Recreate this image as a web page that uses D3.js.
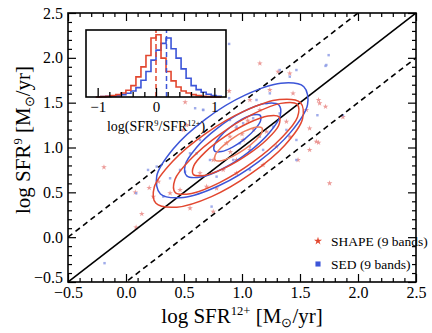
<!DOCTYPE html>
<html><head><meta charset="utf-8">
<script src="https://cdn.jsdelivr.net/npm/d3@7"></script>
<style>body{margin:0;background:#fff} svg{display:block} text{font-family:"Liberation Serif","Times New Roman",serif;fill:#000}</style>
</head><body><svg id="c" width="432" height="333"></svg>
<script>
// ---------- data ----------
const xDomain = [-0.5, 2.5];
const yDomain = [-0.5, 2.5];
const majorTicks = [-0.5, 0, 0.5, 1, 1.5, 2, 2.5];
const tickLabels = ["\u22120.5", "0.0", "0.5", "1.0", "1.5", "2.0", "2.5"];
const dashOffsets = [0.5, -0.5];

const shapePoints = [[1.154,1.939],[1.311,1.846],[1.412,1.827],[1.669,1.493],[1.755,0.601],[1.641,1.066],[1.483,0.861],[1.583,0.973],
[0.236,0.452],[0.552,0.322],[0.752,0.285],[0.494,1.196],[0.523,1.251],[1.154,1.419],[1.211,1.177],[0.953,1.214],[0.896,1.121],
[1.010,1.084],[0.867,1.047],[1.068,0.973],[0.752,0.861],[0.953,0.861],[0.838,0.750],[0.638,0.713],[0.695,0.564],[0.781,0.545],
[0.953,0.713],[1.182,0.805],[1.297,1.010],[1.412,1.121],[1.383,1.289],[0.380,0.490],[0.466,0.527],[1.068,1.530],[1.240,1.642],
[1.440,1.604],[1.555,1.419],[1.583,1.214],[-0.19,0.78],[0.136,0.259],[0.087,0.11],[1.72,1.455],[1.66,1.054],[1.87,1.34],
[1.66,1.53],[0.889,1.63],[0.51,1.505],[0.08,0.50],[0.20,0.55],[0.28,0.62],[1.0,1.15],[1.1,1.2],[0.9,0.95],[1.05,1.3]];
const sedPoints = [[1.727,1.920],[1.469,1.864],[1.412,1.790],[1.325,1.864],[1.240,1.604],[1.125,1.530],[0.666,1.419],[0.638,1.084],
[0.609,0.935],[0.509,0.731],[0.322,0.452],[0.738,0.341],[0.924,0.861],[0.982,1.047],[1.068,1.010],[1.154,1.121],[0.953,1.233],
[0.896,1.307],[1.010,1.270],[1.096,1.326],[1.211,1.493],[1.325,1.381],[1.383,1.196],[1.469,0.861],[1.469,1.084],[0.781,0.675],
[0.724,0.861],[0.552,0.935],[0.466,0.750],[0.380,0.657],[0.265,0.787],[1.182,0.973],[1.268,1.233],[1.068,0.750],[1.747,2.03],
[1.72,1.91],[1.65,1.36],[1.87,1.36],[0.889,2.155],[0.889,1.55],[0.596,1.438],[0.664,1.419],[-0.185,-0.29],[0.088,0.49],[0.19,0.75]];

// contour outlines (data coordinates)
const blueOuter = [[1.533,1.678],[1.335,1.717],[1.026,1.584],[0.686,1.317],[0.408,0.986],[0.265,0.681],[0.297,0.482],[0.495,0.443],[0.804,0.576],[1.144,0.843],[1.422,1.174],[1.565,1.479]];
const blueMiddle = [[1.316,1.476],[1.196,1.490],[1.002,1.394],[0.786,1.214],[0.606,0.998],[0.510,0.804],[0.524,0.684],[0.644,0.670],[0.838,0.766],[1.054,0.946],[1.234,1.162],[1.330,1.356]];
const blueInner = [[1.155,1.361],[1.097,1.365],[1.001,1.315],[0.895,1.223],[0.807,1.115],[0.759,1.017],[0.765,0.959],[0.823,0.955],[0.919,1.005],[1.025,1.097],[1.113,1.205],[1.161,1.303]];
const redOuter = [[1.502,1.503],[1.322,1.535],[1.023,1.408],[0.686,1.155],[0.401,0.844],[0.244,0.559],[0.258,0.377],[0.438,0.335],[0.737,0.452],[1.074,0.705],[1.369,1.026],[1.522,1.321]];
const redSecond = [[1.476,1.481],[1.334,1.492],[1.089,1.369],[0.807,1.144],[0.563,0.877],[0.422,0.642],[0.424,0.499],[0.566,0.488],[0.811,0.611],[1.093,0.836],[1.337,1.103],[1.478,1.338]];
const redThird = [[1.320,1.341],[1.224,1.351],[1.055,1.273],[0.858,1.126],[0.685,0.951],[0.584,0.795],[0.580,0.699],[0.676,0.689],[0.845,0.767],[1.042,0.914],[1.215,1.089],[1.316,1.245]];
const redInner = [[1.171,1.221],[1.117,1.227],[1.024,1.182],[0.916,1.099],[0.822,1.000],[0.769,0.913],[0.769,0.859],[0.823,0.853],[0.916,0.898],[1.024,0.981],[1.118,1.080],[1.171,1.167]];

// inset histogram of log(SFR9/SFR12+)
const histEdges = [-1.032,-0.946,-0.860,-0.774,-0.688,-0.602,-0.516,-0.430,-0.344,-0.258,-0.172,-0.086,0,0.086,0.172,0.258,0.344,0.430,0.516,0.602,0.688,0.774,0.860,0.946,1.032,1.118];
const histShape = [0,0.005,0.01,0.02,0.035,0.06,0.10,0.17,0.30,0.45,0.62,0.88,0.93,0.58,0.38,0.24,0.15,0.09,0.06,0.035,0.02,0.01,0.005,0,0];
const histSed = [0,0.005,0.01,0.015,0.02,0.035,0.055,0.09,0.14,0.25,0.38,0.55,0.70,0.80,0.88,0.72,0.58,0.42,0.28,0.17,0.11,0.07,0.04,0.02,0.01];
const medianShape = 0.0, medianSed = 0.18;
const insetTicks = [-1, 0, 1];
const insetTickLabels = ["\u22121", "0", "1"];

// ---------- drawing ----------
const RED = "#e2472f", BLUE = "#3c55d8", REDL = "#ee7c5e";
const svg = d3.select("#c");
const L = 68, R = 416, T = 13, B = 282;
const x = d3.scaleLinear(xDomain, [L, R]);
const y = d3.scaleLinear(yDomain, [B, T]);

svg.append("clipPath").attr("id","clip").append("rect").attr("x",L).attr("y",T).attr("width",R-L).attr("height",B-T);
const plot = svg.append("g").attr("clip-path","url(#clip)");

// scatter
plot.append("g").selectAll("path").data(shapePoints).join("path")
  .attr("transform", d => `translate(${x(d[0])},${y(d[1])})`)
  .attr("d", d3.symbol(d3.symbolStar, 10)).attr("fill", "#e98a86").attr("opacity", 0.85);
plot.append("g").selectAll("path").data(sedPoints).join("path")
  .attr("transform", d => `translate(${x(d[0])},${y(d[1])})`)
  .attr("d", d3.symbol(d3.symbolSquare, 6)).attr("fill", "#8f9de6").attr("opacity", 0.85);

// reference lines
plot.append("line").attr("x1",x(-0.5)).attr("y1",y(-0.5)).attr("x2",x(2.5)).attr("y2",y(2.5))
  .attr("stroke","#000").attr("stroke-width",1.6);
dashOffsets.forEach(o => {
  plot.append("line").attr("x1",x(-0.5)).attr("y1",y(-0.5+o)).attr("x2",x(2.5)).attr("y2",y(2.5+o))
    .attr("stroke","#000").attr("stroke-width",1.6).attr("stroke-dasharray","5.5,4");
});

// contours
const cl = d3.line().x(d => x(d[0])).y(d => y(d[1])).curve(d3.curveCatmullRomClosed.alpha(0.5));
[[blueOuter,BLUE],[blueMiddle,BLUE],[blueInner,BLUE],[redOuter,RED],[redSecond,RED],[redThird,RED],[redInner,REDL]]
 .forEach(([pts,c]) => plot.append("path").attr("d", cl(pts)).attr("fill","none").attr("stroke",c).attr("stroke-width",1.5));

// axes with inward ticks
const minor = d3.range(-5, 26).map(i => i/10).filter(v => Math.abs(v*2 - Math.round(v*2)) > 1e-6);
function addAxis(gen, scale, tr, labels) {
  const g = svg.append("g").attr("transform", tr);
  g.call(gen(scale).tickValues(minor).tickSize(-4).tickFormat(""));
  const g2 = svg.append("g").attr("transform", tr);
  g2.call(gen(scale).tickValues(majorTicks).tickSize(-8).tickPadding(labels ? 5 : 0)
     .tickFormat(labels ? ((d,i) => tickLabels[i]) : ""));
  [g, g2].forEach(gg => { gg.select(".domain").remove(); gg.selectAll("line").attr("stroke","#000").attr("stroke-width",1.2); });
  g2.selectAll("text").attr("font-size", 16).attr("fill","#000").attr("font-family","Liberation Serif, serif");
  return g2;
}
addAxis(d3.axisBottom, x, `translate(0,${B})`, true);
addAxis(d3.axisTop, x, `translate(0,${T})`, false);
const yAx = addAxis(d3.axisLeft, y, `translate(${L},0)`, true);
yAx.selectAll(".tick text").filter(d => d === -0.5).attr("dy", "0.05em");
addAxis(d3.axisRight, y, `translate(${R},0)`, false);
svg.append("rect").attr("x",L).attr("y",T).attr("width",R-L).attr("height",B-T).attr("fill","none").attr("stroke","#000").attr("stroke-width",1.6);

// axis labels
function label(t, parts, fs) {
  parts.forEach(p => {
    const s = t.append("tspan").text(p[0]);
    if (p[1] === "sup") s.attr("font-size", fs*0.6).attr("dy", -fs*0.38);
    else if (p[1] === "sub") s.attr("font-size", fs*0.6).attr("dy", fs*0.18);
    else if (p[1] === "backsup") s.attr("dy", fs*0.38);
    else if (p[1] === "backsub") s.attr("dy", -fs*0.18);
  });
}
const xl = svg.append("text").attr("x", 242).attr("y", 323).attr("text-anchor","middle").attr("font-size", 21);
label(xl, [["log SFR"],["12+","sup"],[" [M","backsup"],["\u2299","sub"],["/yr]","backsub"]], 21);
const yl = svg.append("text").attr("transform","translate(30,140) rotate(-90)").attr("text-anchor","middle").attr("font-size", 21);
label(yl, [["log SFR"],["9","sup"],[" [M","backsup"],["\u2299","sub"],["/yr]","backsub"]], 21);

// legend
svg.append("path").attr("transform","translate(318,241)").attr("d", d3.symbol(d3.symbolStar, 20)).attr("fill", RED);
svg.append("text").attr("x", 331).attr("y", 246).attr("font-size", 13.5).text("SHAPE (9 bands)");
svg.append("path").attr("transform","translate(318,264)").attr("d", d3.symbol(d3.symbolSquare, 26)).attr("fill", BLUE);
svg.append("text").attr("x", 331).attr("y", 269).attr("font-size", 13.5).text("SED (9 bands)");

// inset
const IL = 86, IR = 226, IT = 30, IB = 97;
const xi = d3.scaleLinear([-1.2, 1.2], [IL, IR]);
const yi = d3.scaleLinear([0, 1], [IB, IT]);
svg.append("rect").attr("x",IL).attr("y",IT).attr("width",IR-IL).attr("height",IB-IT).attr("fill","#fff");
const stepLine = d3.line().x(d => xi(d[0])).y(d => yi(d[1]));
function stepPts(vals) {
  const pts = [[histEdges[0], 0]];
  vals.forEach((v, i) => { pts.push([histEdges[i], v]); pts.push([histEdges[i+1], v]); });
  pts.push([histEdges[histEdges.length-1], 0]);
  return pts;
}
const ig = svg.append("g");
ig.append("path").attr("d", stepLine(stepPts(histSed))).attr("fill","none").attr("stroke",BLUE).attr("stroke-width",1.6);
ig.append("path").attr("d", stepLine(stepPts(histShape))).attr("fill","none").attr("stroke",RED).attr("stroke-width",1.6);
[[medianShape,RED],[medianSed,BLUE]].forEach(([m,c]) => ig.append("line").attr("x1",xi(m)).attr("x2",xi(m)).attr("y1",IB).attr("y2",IT)
  .attr("stroke",c).attr("stroke-width",1.5).attr("stroke-dasharray","5,3"));
const iminor = d3.range(-12, 13).map(i => i/10).filter(v => Math.abs(Math.round(v*10)) % 2 === 0 && Math.abs(v - Math.round(v)) > 1e-6 && v > -1.15 && v < 1.15);
const ia1 = svg.append("g").attr("transform",`translate(0,${IB})`).call(d3.axisBottom(xi).tickValues(iminor).tickSize(-5).tickFormat(""));
const ia2 = svg.append("g").attr("transform",`translate(0,${IB})`).call(d3.axisBottom(xi).tickValues(insetTicks).tickSize(-9).tickPadding(4).tickFormat((d,i) => insetTickLabels[i]));
[ia1, ia2].forEach(gg => { gg.select(".domain").remove(); gg.selectAll("line").attr("stroke","#000").attr("stroke-width",1.3); });
ia2.selectAll("text").attr("font-size", 15).attr("fill","#000").attr("font-family","Liberation Serif, serif");
svg.append("rect").attr("x",IL).attr("y",IT).attr("width",IR-IL).attr("height",IB-IT).attr("fill","none").attr("stroke","#000").attr("stroke-width",1.6);
const il = svg.append("text").attr("x", 156).attr("y", 131).attr("text-anchor","middle").attr("font-size", 14);
label(il, [["log(SFR"],["9","sup"],["/SFR","backsup"],["12+","sup"],[")","backsup"]], 14);
</script></body></html>
